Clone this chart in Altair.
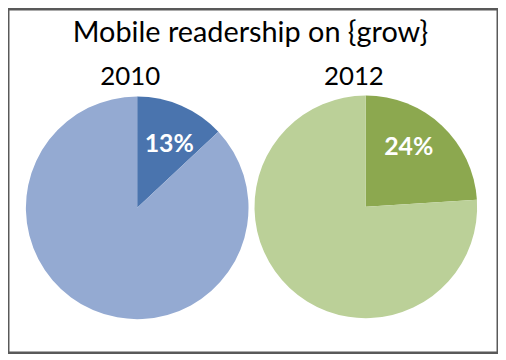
import altair as alt
import pandas as pd

title_text = "Mobile readership on {grow}"
years = ["2010", "2012"]
mobile_share = [13, 24]
other_share = [87, 76]
mobile_labels = ["13%", "24%"]
dark_colors = ["#4A74AE", "#8CA84F"]
light_colors = ["#94AAD2", "#BBD098"]

# layout (pixels inside the chart)
W, H = 493, 346
centers = [(130, 200), (360, 199)]
R = 112
FONT = "Lato"

rows = []
for i, y in enumerate(years):
    rows.append({"year": y, "order": 0, "value": mobile_share[i],
                 "label": mobile_labels[i], "color": dark_colors[i]})
    rows.append({"year": y, "order": 1, "value": other_share[i],
                 "label": "", "color": light_colors[i]})
df = pd.DataFrame(rows)

layers = []
year_label_x = [123, 348]
label_offsets = [(6, -4), (-2, -12)]
for i, y in enumerate(years):
    cx, cy = centers[i]
    base = alt.Chart(df).transform_filter(alt.datum.year == y).encode(
        theta=alt.Theta("value:Q", stack=True),
        order=alt.Order("order:Q"),
        x=alt.value(cx),
        y=alt.value(cy),
    )
    arc = base.mark_arc(radius=R).encode(color=alt.Color("color:N", scale=None))
    txt = base.mark_text(
        radius=66, font=FONT, fontSize=25, fontWeight="bold", fill="white",
        dx=label_offsets[i][0], dy=label_offsets[i][1]
    ).encode(text="label:N")
    yr = alt.Chart(df).transform_filter(
        (alt.datum.year == y) & (alt.datum.order == 0)
    ).mark_text(font=FONT, fontSize=26, baseline="alphabetic", color="black").encode(
        text="year:N", x=alt.value(year_label_x[i]), y=alt.value(76)
    )
    layers += [arc, txt, yr]

title = alt.Chart(df).transform_filter(
    (alt.datum.year == years[0]) & (alt.datum.order == 0)
).mark_text(font=FONT, fontSize=29, baseline="alphabetic", color="black").encode(
    text=alt.value(title_text), x=alt.value(244), y=alt.value(33)
)
layers.append(title)

chart = alt.layer(*layers).properties(
    width=W, height=H, autosize=alt.AutoSizeParams(type="none"), padding=0
).configure_view(stroke="#595959", strokeWidth=3)

chart.save("out.html", embed_options={"renderer": "svg", "actions": False})
